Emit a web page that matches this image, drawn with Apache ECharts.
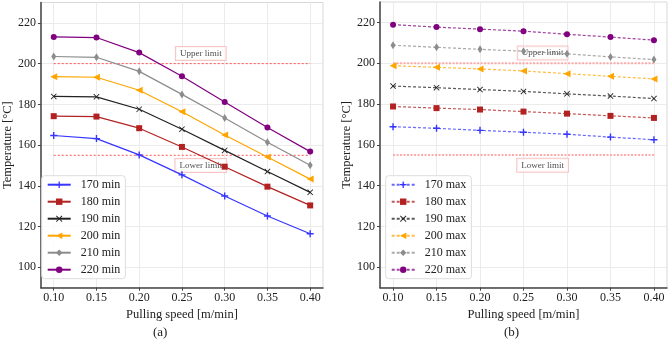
<!DOCTYPE html>
<html><head><meta charset="utf-8">
<script src="https://cdn.jsdelivr.net/npm/echarts@6/dist/echarts.min.js"></script>
<style>html,body{margin:0;padding:0;background:#fff}#c{width:669px;height:342px}</style>
</head><body><div id="c"></div>
<script>
const speeds = [0.10, 0.15, 0.20, 0.25, 0.30, 0.35, 0.40];
const xTicks = [0.10, 0.15, 0.20, 0.25, 0.30, 0.35, 0.40];
const yTicks = [100, 120, 140, 160, 180, 200, 220];

const minNames = ['170 min', '180 min', '190 min', '200 min', '210 min', '220 min'];
const min170 = [164.7, 163.2, 155.2, 145.4, 135.0, 125.2, 116.5];
const min180 = [174.2, 174.0, 168.3, 159.1, 149.4, 139.6, 130.4];
const min190 = [183.9, 183.7, 177.6, 167.8, 157.4, 147.0, 136.8];
const min200 = [193.6, 193.3, 186.9, 176.4, 165.0, 154.2, 143.3];
const min210 = [203.5, 203.1, 196.2, 184.9, 173.3, 161.4, 150.1];
const min220 = [213.1, 212.8, 205.4, 193.8, 181.2, 168.6, 156.8];

const maxNames = ['170 max', '180 max', '190 max', '200 max', '210 max', '220 max'];
const max170 = [168.9, 168.1, 167.1, 166.2, 165.2, 163.8, 162.5];
const max180 = [178.8, 178.0, 177.3, 176.3, 175.3, 174.2, 173.2];
const max190 = [188.8, 188.0, 187.1, 186.2, 185.0, 183.9, 182.7];
const max200 = [198.8, 198.0, 197.2, 196.2, 194.9, 193.6, 192.3];
const max210 = [208.8, 207.8, 206.8, 205.9, 204.6, 203.1, 201.8];
const max220 = [218.9, 217.7, 216.7, 215.7, 214.2, 212.8, 211.3];

const upperLimit = 200;
const lowerLimit = 155;
const limitSpan = [0.10, 0.40];
const limitLabels = ['Upper limit', 'Lower limit'];
const limitLabelPos = [[0.272, 205], [0.272, 150]];

const colors = ['#3535ff', '#b22222', '#222222', '#ffa500', '#8c8c8c', '#800080'];
const symbols = [
  'path://M4,0h2v4h4v2h-4v4h-2v-4h-4v-2h4z',
  'rect',
  'path://M1,0L5,4L9,0L10,1L6,5L10,9L9,10L5,6L1,10L0,9L4,5L0,1Z',
  'path://M0,5L10,0L10,10Z',
  'path://M5,0L9,10L5,20L1,10Z',
  'circle'
];
const symbolSizes = [7, 6, 6, 7, [5, 8], 6];

const FONT = 'Liberation Serif';
const minData = [min170, min180, min190, min200, min210, min220];
const maxData = [max170, max180, max190, max200, max210, max220];

function pairs(ys) { return speeds.map((x, i) => [x, ys[i]]); }

function xAxis(gi) {
  return {
    type: 'value', gridIndex: gi, min: 0.085, max: 0.415,
    name: 'Pulling speed [m/min]', nameLocation: 'middle', nameGap: 12,
    nameTextStyle: { fontFamily: FONT, fontSize: 12.5, color: '#222' },
    axisLine: { show: true, lineStyle: { color: '#444', width: 1.5 } },
    axisTick: { show: true, length: 3, customValues: xTicks, lineStyle: { color: '#444' } },
    axisLabel: { customValues: xTicks, margin: 4, fontFamily: FONT, fontSize: 12, color: '#222',
      formatter: v => v.toFixed(2) },
    splitLine: { show: true, lineStyle: { color: '#ebebeb', width: 1 } }
  };
}
function yAxis(gi) {
  return {
    type: 'value', gridIndex: gi, min: 90, max: 230,
    name: 'Temperature [°C]', nameLocation: 'middle', nameGap: 24,
    nameTextStyle: { fontFamily: FONT, fontSize: 12.5, color: '#222' },
    axisLine: { show: true, lineStyle: { color: '#444', width: 1.5 } },
    axisTick: { show: true, length: 3, customValues: yTicks, lineStyle: { color: '#444' } },
    axisLabel: { customValues: yTicks, margin: 5, fontFamily: FONT, fontSize: 12, color: '#222' },
    splitLine: { show: true, lineStyle: { color: '#ebebeb', width: 1 } }
  };
}

const series = [];
[0, 1].forEach(gi => {
  [upperLimit, lowerLimit].forEach(v => {
    series.push({
      type: 'line', xAxisIndex: gi, yAxisIndex: gi, silent: true, symbol: 'none',
      data: limitSpan.map(x => [x, v]), z: 1,
      lineStyle: gi === 0 ? { color: '#ff5555', width: 1, type: [2, 2] }
                          : { color: '#ffaaaa', width: 2, type: [2, 1.5] }
    });
  });
  series.push({
    type: 'scatter', xAxisIndex: gi, yAxisIndex: gi, symbolSize: 0, silent: true, z: 1,
    data: limitLabelPos.map((p, i) => ({ value: p, name: limitLabels[i] })),
    label: { show: true, position: 'inside', formatter: '{b}', fontFamily: FONT, fontSize: 9, color: '#222',
      backgroundColor: '#fff', borderColor: '#f4b6b6', borderWidth: 1, padding: [2, 4, 2, 4] }
  });
});
minData.forEach((d, i) => series.push({
  name: minNames[i], type: 'line', xAxisIndex: 0, yAxisIndex: 0, data: pairs(d), z: 3,
  symbol: symbols[i], symbolSize: symbolSizes[i], showAllSymbol: true,
  itemStyle: { color: colors[i] }, lineStyle: { color: colors[i], width: 1.2 }
}));
maxData.forEach((d, i) => series.push({
  name: maxNames[i], type: 'line', xAxisIndex: 1, yAxisIndex: 1, data: pairs(d), z: 3,
  symbol: symbols[i], symbolSize: symbolSizes[i], showAllSymbol: true,
  itemStyle: { color: colors[i] }, lineStyle: { color: colors[i], width: 1.2, type: [3, 2], opacity: 0.75 }
}));

function legend(names, left) {
  return {
    data: names, orient: 'vertical', left: left, top: 175.7,
    itemWidth: 23, itemHeight: 8, itemGap: 5, padding: [3, 5, 3, 5],
    backgroundColor: 'rgba(255,255,255,0.85)', borderColor: '#dddddd', borderWidth: 1, borderRadius: 3,
    textStyle: { fontFamily: FONT, fontSize: 12, color: '#222', padding: [0, 0, 0, 5] },
    selectedMode: false
  };
}

const chart = echarts.init(document.getElementById('c'), null, { renderer: 'canvas' });
chart.setOption({
  animation: false,
  backgroundColor: '#fff',
  grid: [
    { left: 35.7, top: 2.5, width: 287.3, height: 285.2, show: true, borderColor: '#d9d9d9', borderWidth: 1, backgroundColor: 'transparent' },
    { left: 380, top: 2, right: 2, height: 285.7, show: true, borderColor: '#d9d9d9', borderWidth: 1, backgroundColor: 'transparent' }
  ],
  xAxis: [xAxis(0), xAxis(1)],
  yAxis: [yAxis(0), yAxis(1)],
  legend: [legend(minNames, 41.7), legend(maxNames, 385.7)],
  series: series,
  graphic: [
    { type: 'text', left: 153, top: 326, style: { text: '(a)', fontFamily: FONT, fontSize: 13, fill: '#222' } },
    { type: 'text', left: 504, top: 326, style: { text: '(b)', fontFamily: FONT, fontSize: 13, fill: '#222' } }
  ]
});
</script></body></html>
